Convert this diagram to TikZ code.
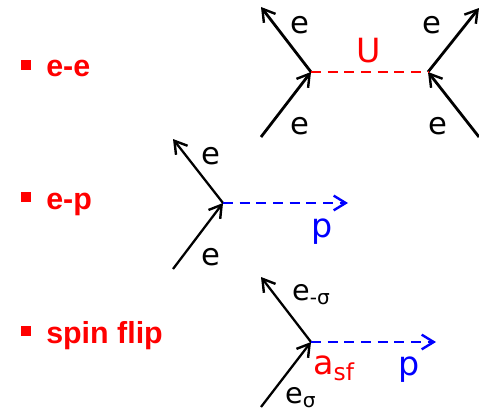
\documentclass[tikz,border=0pt]{standalone}
\usepackage{fontspec}
\setmainfont{DejaVu Sans}
\newfontfamily\headfont{Liberation Sans}
\usetikzlibrary{arrows.meta}
\definecolor{ptred}{RGB}{255,0,0}
\definecolor{ptblue}{RGB}{0,0,255}
\begin{document}
\begin{tikzpicture}[x=.75pt,y=-.75pt,>={Straight Barb[length=9pt,width=11pt,line width=1.8pt]},line join=round]
	\tikzset{leg/.style={draw=black,line width=2.1pt},
		thinleg/.style={draw=black,line width=1.7pt},
		dash line/.style={line width=1.9pt,dash pattern=on 7.5pt off 5pt},
		lbl/.style={font=\fontsize{23}{23}\selectfont,inner sep=0pt},
		sublbl/.style={font=\fontsize{21.5}{22}\selectfont,inner sep=0pt,anchor=west},
		biglbl/.style={font=\fontsize{25}{25}\selectfont,inner sep=0pt},
		head/.style={font=\headfont\bfseries\fontsize{22.8}{23}\selectfont,text=ptred,anchor=base west,inner sep=0pt},
		bullet/.style={fill=ptred,inner sep=0pt,minimum size=7.5pt}}
	\useasboundingbox (0,0) rectangle (479,414);
	%%Cac muc ben trai
	\draw (26,65) node[bullet] (bulA) {};
	\draw (26,197) node[bullet] (bulB) {};
	\draw (26,331) node[bullet] (bulC) {};
	\draw (46,76) node[head] (headA) {e-e};
	\draw (46,209) node[head] (headB) {e-p};
	\draw (46,343) node[head] (headC) {spin flip};
	%%Hinh e-e
	\coordinate (vA) at (311,72);
	\coordinate (vB) at (428,72);
	\coordinate (aTL) at (261,7);
	\coordinate (aBL) at (261,137);
	\coordinate (aTR) at (479,8);
	\coordinate (aBR) at (479,137);
	\draw[leg,->] (vA)--(aTL);
	\draw[leg,->] (aBL)--(vA);
	\draw[leg,->] (vB)--(aTR);
	\draw[leg,->] (aBR)--(vB);
	\draw[dash line,ptred] (vA)--(vB);
	\draw (300,25) node[lbl] (eA) {e};
	\draw (300,126) node[lbl] (eB) {e};
	\draw (432,25) node[lbl] (eC) {e};
	\draw (438,126) node[lbl] (eD) {e};
	\draw (369,51) node[biglbl,text=ptred] (labU) {U};
	%%Hinh e-p
	\coordinate (vC) at (223,203);
	\coordinate (bT) at (173,139);
	\coordinate (bB) at (173,269);
	\coordinate (bP) at (348,203);
	\draw[thinleg,->] (vC)--(bT);
	\draw[thinleg,->] (bB)--(vC);
	\draw[dash line,ptblue,->] (vC)--(bP);
	\draw (211,156) node[lbl] (eE) {e};
	\draw (211,257) node[lbl] (eF) {e};
	\draw (322,232) node[biglbl,text=ptblue] (labP) {p};
	%%Hinh spin flip
	\coordinate (vD) at (311,342);
	\coordinate (cT) at (261,277);
	\coordinate (cB) at (261,407);
	\coordinate (cP) at (436,342);
	\draw[thinleg,->] (vD)--(cT);
	\draw[thinleg,->] (cB)--(vD);
	\draw[dash line,ptblue,->] (vD)--(cP);
	\draw (292,295) node[sublbl] (eG) {e\textsubscript{-σ}};
	\draw (285,398) node[sublbl] (eH) {e\textsubscript{σ}};
	\draw (313,368) node[biglbl,anchor=west,text=ptred] (labA) {a\textsubscript{sf}};
	\draw (409,370) node[biglbl,text=ptblue] (labQ) {p};
\end{tikzpicture}
\end{document}
